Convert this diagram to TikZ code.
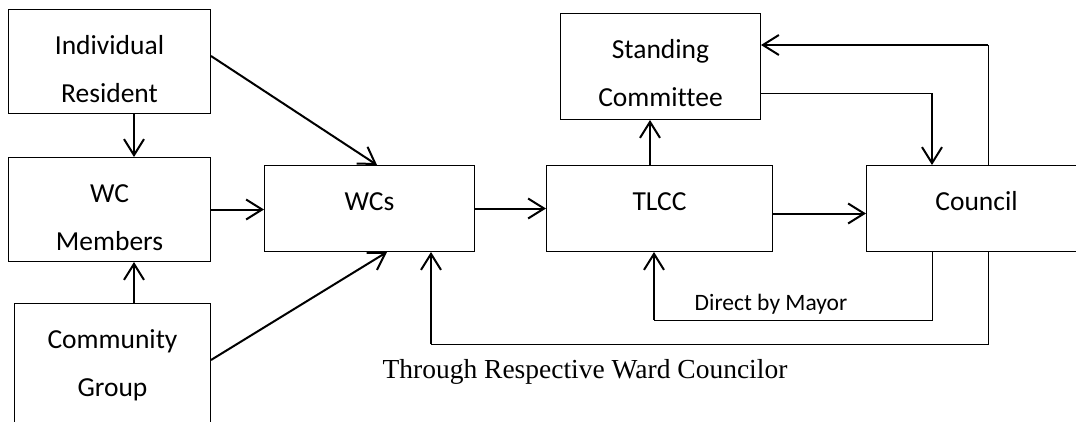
\documentclass[tikz,border=0pt]{standalone}
\usepackage{fontspec}
\setmainfont{Liberation Serif}
\newfontfamily\calibri[Ligatures=NoCommon]{Carlito}
\usetikzlibrary{arrows.meta}

\begin{document}
\begin{tikzpicture}[x=1pt, y=-1pt,
        box/.style={draw, line width=1pt, inner sep=0pt, anchor=north west, align=center,
            text height=45pt, font=\calibri\fontsize{27.5}{48}\selectfont},
        twoline/.style={text height=93pt},
        arr/.style={-{Straight Barb[length=16pt, width=20pt]}, line width=2pt},
        wire/.style={line width=1pt}]
        \useasboundingbox (0,0) rectangle (1076,421);
        \clip (0,0) rectangle (1076,421);

        % Boxes (top left corner at the coordinate)
        \node[box, twoline, minimum width=202pt, text depth=11pt] (ind) at (8,9) {Individual\\Resident};
        \node[box, twoline, minimum width=202pt, text depth=11pt] (wcm) at (8,157) {WC\\Members};
        \node[box, twoline, minimum width=196pt, text depth=37pt] (cg) at (14,303) {Community\\Group};
        \node[box, minimum width=210pt, text depth=41pt] (wcs) at (264,165) {WCs};
        \node[box, minimum width=226pt, text depth=41pt] (tlcc) at (546,165) {TLCC};
        \node[box, twoline, minimum width=200pt, text depth=13pt] (sc) at (560,13) {Standing\\Committee};
        \node[box, minimum width=220pt, text depth=41pt] (coun) at (866,165) {Council};

        % Inputs on the left
        \draw[arr] ([xshift=126pt]ind.south west) -- ([xshift=126pt]wcm.north west);
        \draw[arr] ([xshift=120pt]cg.north west) -- ([xshift=126pt]wcm.south west);
        \draw[arr] ([yshift=-47pt]ind.north east) -- ([xshift=113pt]wcs.north west);
        \draw[arr] (wcm.east) -- (wcm.east -| wcs.west);
        \draw[arr] ([yshift=-57pt]cg.north east) -- ([xshift=123pt]wcs.south west);

        % Main line
        \draw[arr] (wcs.east) -- (tlcc.west);
        \draw[arr] ([yshift=-5pt]tlcc.east) -- ([yshift=-5pt]tlcc.east -| coun.west);
        \draw[arr] ([xshift=104pt]tlcc.north west) -- ([xshift=104pt]tlcc.north west |- sc.south);

        % Council <-> Standing Committee
        \coordinate (top) at ([xshift=122pt]coun.north west);
        \coordinate (scin) at ([yshift=-32pt]sc.north east);
        \draw[wire] (top) -- (top |- scin);
        \draw[arr] (top |- scin) -- (scin);
        \coordinate (scout) at ([yshift=-80pt]sc.north east);
        \coordinate (counin) at ([xshift=66pt]coun.north west);
        \draw[wire] (scout) -- (scout -| counin);
        \draw[arr] (scout -| counin) -- (counin);

        % Back loops under the boxes
        \coordinate (dm) at ([xshift=66pt]coun.south west);
        \coordinate (dmin) at ([xshift=108pt]tlcc.south west);
        \draw[wire] (dm) |- ([yshift=-68pt]dmin);
        \draw[arr] ([yshift=-68pt]dmin) -- (dmin);
        \coordinate (wc) at ([xshift=122pt]coun.south west);
        \coordinate (wcin) at ([xshift=167pt]wcs.south west);
        \draw[wire] (wc) |- ([yshift=-92pt]wcin);
        \draw[arr] ([yshift=-92pt]wcin) -- (wcin);

        \node[anchor=base, font=\calibri\fontsize{23.5}{28}\selectfont] (mayor) at (771,310) {Direct by Mayor};
        \node[anchor=base, font=\fontsize{27.5}{33}\selectfont] (ward) at (585,378) {Through Respective Ward Councilor};
\end{tikzpicture}
\end{document}
